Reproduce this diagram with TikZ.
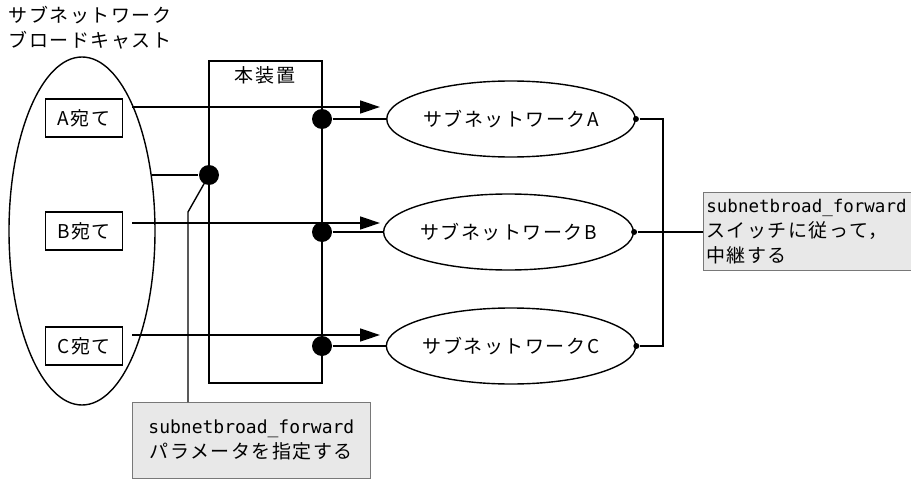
\documentclass[tikz,border=0pt]{standalone}
\usepackage{fontspec}
\setmainfont{Noto Sans CJK JP}[LetterSpace=8]
\newfontfamily\codefont{DejaVu Sans Mono}
\usepackage{tikz}
\usetikzlibrary{arrows.meta,positioning,shapes.geometric}
\definecolor{notegray}{RGB}{232,232,232}
\definecolor{noteline}{RGB}{120,120,120}

\tikzset{
  dest/.style={draw,minimum width=77pt,minimum height=38pt,inner sep=0pt},
  subnet/.style={draw,ellipse,minimum width=228pt,minimum height=76pt,inner sep=0pt},
  bigdot/.style={circle,fill,inner sep=0pt,minimum size=20pt},
  smalldot/.style={circle,fill,inner sep=0pt,minimum size=6pt},
  notebox/.style={draw=noteline,fill=notegray,line width=0.8pt,inner sep=2pt},
  send/.style={-{Triangle[length=20pt,width=13pt]}}
}

\begin{document}
\begin{tikzpicture}[x=1pt,y=-1pt,line width=1.4pt,font=\fontsize{19}{25}\selectfont]
  \useasboundingbox (0,0) rectangle (911,479);

  % broadcast side
  \node[anchor=north west,align=left,inner sep=0pt] (title) at (8,6) {サブネットワーク\\ブロードキャスト};
  \node[draw,ellipse,minimum width=146pt,minimum height=348pt,inner sep=0pt] (bcast) at (82,231) {};
  \node[dest] (da) at (84,118) {A宛て};
  \node[dest] (db) at (84,231) {B宛て};
  \node[dest] (dc) at (84,346) {C宛て};

  % the device
  \node[draw,minimum width=113pt,minimum height=322pt,inner sep=0pt] (dev) at (265.5,222) {};
  \node[inner sep=0pt] (devlabel) at (265,75) {本装置};

  % subnets
  \node[subnet] (na) at (511,119) {サブネットワークA};
  \node[subnet,minimum width=233pt] (nb) at (508.5,232) {サブネットワークB};
  \node[subnet] (nc) at (511,346) {サブネットワークC};

  \foreach \n/\y/\ya in {a/119/107,b/232/223,c/346/335} {
    \coordinate (s\n) at (132,\ya);
    \coordinate (t\n) at (380,\ya);
    \node[bigdot] (p\n) at (322,\y) {};
    \draw[send] (s\n) -- (t\n);
    \draw (p\n) -- (n\n.west);
    \node[smalldot] (q\n) at (n\n.east) {};
  }

  % parameter
  \node[bigdot] (pm) at (209,175) {};
  \coordinate (bm) at (152,175);
  \draw (bm) -- (pm);
  \node[notebox,minimum width=238pt,minimum height=76pt,align=center,anchor=north west] (param) at (132,402)
    {{\codefont\fontsize{18}{25}\selectfont subnetbroad\_forward}\\パラメータを指定する};
  \coordinate (bend) at (188,212);
  \draw (pm.center) -- (bend) -- (bend |- param.north);

  % relay switch
  \coordinate (rt) at (663,119);
  \coordinate (rb) at (663,346);
  \draw (qa) -- (rt) -- (rb) -- (qc);
  \node[notebox,minimum width=208pt,minimum height=78pt,align=left,anchor=north west,text width=202pt] (relay) at (703,192)
    {{\codefont\fontsize{17.5}{25}\selectfont subnetbroad\_forward}\\スイッチに従って，\\中継する};
  \draw (qb) -- (qb -| relay.west);
\end{tikzpicture}
\end{document}
